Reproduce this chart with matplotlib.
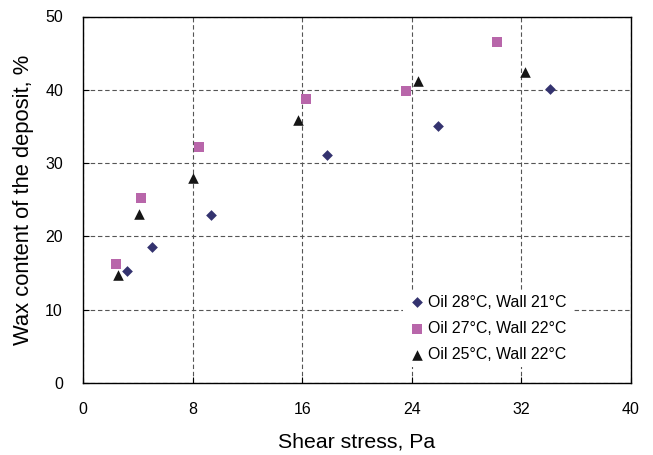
import matplotlib
matplotlib.use("Agg")
import matplotlib.pyplot as plt

plt.rcParams['font.family'] = ['Liberation Sans', 'DejaVu Sans']

# Data
s1_label = "Oil 28°C, Wall 21°C"
s1_x = [3.2, 5.05, 9.35, 17.8, 25.9, 34.1]
s1_y = [15.3, 18.5, 22.9, 31.1, 35.0, 40.1]

s2_label = "Oil 27°C, Wall 22°C"
s2_x = [2.4, 4.2, 8.45, 16.3, 23.6, 30.2]
s2_y = [16.2, 25.2, 32.2, 38.8, 39.8, 46.5]

s3_label = "Oil 25°C, Wall 22°C"
s3_x = [2.55, 4.1, 8.05, 15.7, 24.45, 32.25]
s3_y = [14.8, 23.0, 27.9, 35.9, 41.2, 42.4]

x_ticks = [0, 8, 16, 24, 32, 40]
y_ticks = [0, 10, 20, 30, 40, 50]

W, H = 653, 455
L, R, T, B = 83, 631, 16.5, 383
fig = plt.figure(figsize=(W/100, H/100), dpi=100)
ax = fig.add_axes([L/W, 1-B/H, (R-L)/W, (B-T)/H])

ax.scatter(s1_x, s1_y, marker='D', s=30, color='#34336f', label=s1_label, zorder=3, linewidths=0)
ax.scatter(s2_x, s2_y, marker='s', s=48, color='#b866aa', label=s2_label, zorder=3, linewidths=0)
ax.scatter(s3_x, s3_y, marker='^', s=58, color='#151515', label=s3_label, zorder=3, linewidths=0)

ax.set_xlim(0, 40)
ax.set_ylim(0, 50)
ax.set_xticks(x_ticks)
ax.set_yticks(y_ticks)
ax.grid(True, linestyle=(0, (4, 2.5)), color='#555555', linewidth=0.8)
ax.tick_params(direction='in', length=4, labelsize=11.5, colors='black')
ax.tick_params(axis='y', pad=14.4)
ax.tick_params(axis='x', pad=14)
for sp in ax.spines.values():
    sp.set_linewidth(1.0)
    sp.set_color('black')

ax.set_xlabel("Shear stress, Pa", fontsize=15.3, va='top')
ax.xaxis.set_label_coords(0.5, (B-433)/(B-T))
ax.set_ylabel("Wax content of the deposit, %", fontsize=15.8)
ax.yaxis.set_label_coords((34-L)/(R-L), 0.5)

leg = ax.legend(loc='lower left', bbox_to_anchor=((395-L)/(R-L), 8/(B-T)),
                frameon=True, fancybox=False, fontsize=11.4, labelspacing=0.72,
                handletextpad=0.1, borderpad=0.3, handlelength=1.2)
leg.get_frame().set_edgecolor('none')
leg.get_frame().set_facecolor('white')
leg.get_frame().set_alpha(1)

fig.savefig("out.png", dpi=100)
